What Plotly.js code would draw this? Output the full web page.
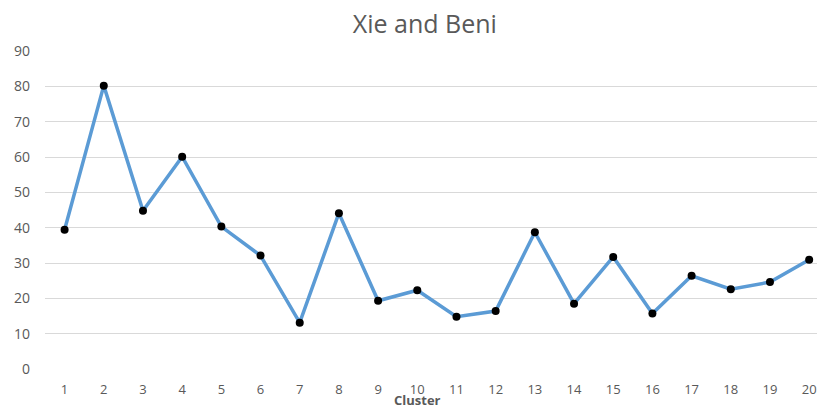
<!DOCTYPE html>
<html>
<head>
<meta charset="utf-8">
<script src="https://cdn.plot.ly/plotly-3.0.1.min.js"></script>
<style>
html,body{margin:0;padding:0;background:#fff;overflow:hidden;}
#chart{width:817px;height:408px;}
</style>
</head>
<body>
<div id="chart"></div>
<script>
const clusters = [1,2,3,4,5,6,7,8,9,10,11,12,13,14,15,16,17,18,19,20];
const xieBeni = [39.4,80.2,44.8,60.1,40.3,32.1,13.1,44.1,19.3,22.3,14.8,16.4,38.7,18.5,31.7,15.7,26.4,22.6,24.6,30.9];
const chartTitle = "Xie and Beni";
const xTitle = "Cluster";

const trace = {
  x: clusters,
  y: xieBeni,
  type: "scatter",
  mode: "lines+markers",
  line: {color: "#5B9BD5", width: 3.5},
  marker: {color: "#000000", size: 8},
  cliponaxis: false,
  hoverinfo: "x+y"
};

const layout = {
  width: 817,
  height: 408,
  margin: {l: 45, r: 0, t: 51, b: 39, pad: 0},
  paper_bgcolor: "#ffffff",
  plot_bgcolor: "#ffffff",
  showlegend: false,
  font: {family: "Open Sans, Liberation Sans, sans-serif", color: "#595959", size: 13},
  title: {
    text: chartTitle,
    font: {size: 25, color: "#595959", family: "Open Sans, sans-serif"},
    x: 0.52, xanchor: "center",
    y: 0.941, yanchor: "middle"
  },
  xaxis: {
    range: [0.5, 20.2],
    tickvals: clusters,
    ticktext: clusters.map(String),
    showgrid: false,
    zeroline: false,
    showline: false,
    ticks: "",
    ticklabelstandoff: 11,
    tickfont: {size: 13, color: "#595959"}
  },
  yaxis: {
    range: [0, 90],
    dtick: 10,
    tick0: 0,
    showgrid: true,
    gridcolor: "#d9d9d9",
    gridwidth: 1,
    zeroline: false,
    showline: false,
    ticks: "",
    ticklabelstandoff: 14,
    tickfont: {size: 14, color: "#595959"}
  },
  annotations: [{
    text: "<b>" + xTitle + "</b>",
    xref: "paper", yref: "paper",
    x: 0.482, y: -0.099,
    xanchor: "center", yanchor: "middle",
    showarrow: false,
    font: {size: 13, color: "#595959"}
  }]
};

Plotly.newPlot("chart", [trace], layout, {displayModeBar: false, staticPlot: true});
</script>
</body>
</html>
